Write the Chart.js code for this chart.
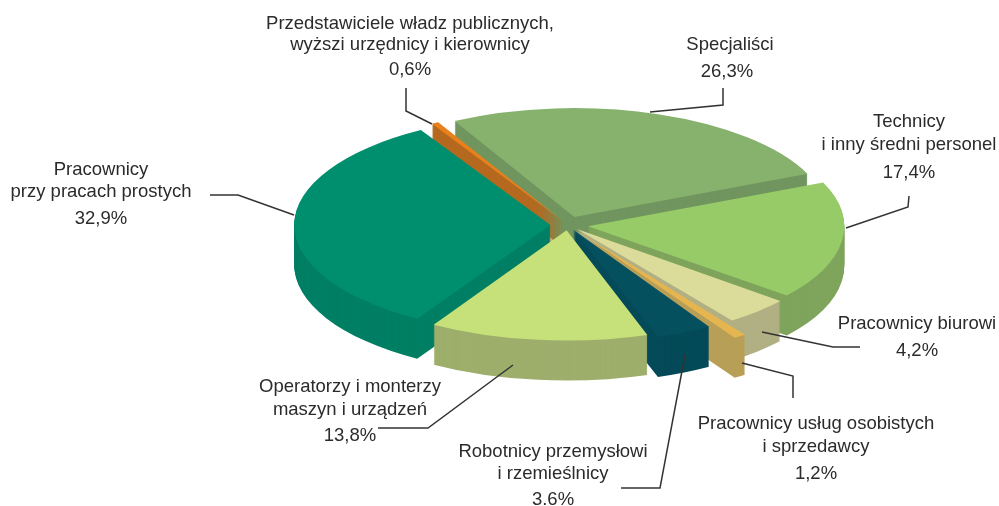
<!DOCTYPE html>
<html lang="pl">
<head>
<meta charset="utf-8">
<title>Pracownicy</title>
<script src="https://cdn.jsdelivr.net/npm/chart.js@4"></script>
<style>
  html, body { margin: 0; background: #fff; }
  canvas { display: block; }
</style>
</head>
<body>
<canvas id="pie-chart" width="999" height="506"></canvas>
<script>
const categories = [
  "Przedstawiciele władz publicznych, wyższi urzędnicy i kierownicy",
  "Specjaliści",
  "Technicy i inny średni personel",
  "Pracownicy biurowi",
  "Pracownicy usług osobistych i sprzedawcy",
  "Robotnicy przemysłowi i rzemieślnicy",
  "Operatorzy i monterzy maszyn i urządzeń",
  "Pracownicy przy pracach prostych",
];
const shares = [0.6, 26.3, 17.4, 4.2, 1.2, 3.6, 13.8, 32.9];
const shareLabels = ["0,6%", "26,3%", "17,4%", "4,2%", "1,2%", "3.6%", "13,8%", "32,9%"];

const topColors = ["#e8801c", "#87b26d", "#97cb68", "#dbdc9a", "#e5b550", "#04505f", "#c6e07a", "#008f6e"];
const sideColors = ["#b5691f", "#71955f", "#7fa45c", "#b1b084", "#b89f57", "#044a58", "#9eae6c", "#007f64"];
const sliceOffsets = [30, 63, 65, 42, 96, 40, 40, 57];

// back slices first, so the front ones paint over their walls
const drawOrder = [1, 0, 2, 7, 3, 4, 5, 6];

const pieCenter = { x: 568, y: 225 };
const pieRadius = { x: 254, y: 109 };
const pieDepth = 40;

// one entry per slice: the text lines with their centre and baseline, then the leader line
const callouts = [
  { text: [["Przedstawiciele władz publicznych,", 410, 29], ["wyższi urzędnicy i kierownicy", 410, 50], [shareLabels[0], 410, 75]],
    line: [[406, 88], [406, 111], [432, 124]] },
  { text: [["Specjaliści", 730, 50], [shareLabels[1], 727, 77]],
    line: [[723, 88], [723, 105], [650, 112]] },
  { text: [["Technicy", 909, 127], ["i inny średni personel", 909, 150], [shareLabels[2], 909, 178]],
    line: [[909, 196], [908, 207], [846, 228]] },
  { text: [["Pracownicy biurowi", 917, 329], [shareLabels[3], 917, 356]],
    line: [[860, 347], [833, 347], [762, 332]] },
  { text: [["Pracownicy usług osobistych", 816, 429], ["i sprzedawcy", 816, 452], [shareLabels[4], 816, 479]],
    line: [[793, 398], [793, 376], [742, 363]] },
  { text: [["Robotnicy przemysłowi", 553, 457], ["i rzemieślnicy", 553, 479], [shareLabels[5], 553, 505]],
    line: [[685, 355], [660, 488], [621, 488]] },
  { text: [["Operatorzy i monterzy", 350, 392], ["maszyn i urządzeń", 350, 415], [shareLabels[6], 350, 441]],
    line: [[513, 365], [428, 428], [378, 428]] },
  { text: [["Pracownicy", 101, 175], ["przy pracach prostych", 101, 197], [shareLabels[7], 101, 224]],
    line: [[294, 215], [238, 195], [210, 195]] },
];

function drawLayer(ctx, arc, color, drop) {
  const options = arc.options;
  arc.options = { ...options, backgroundColor: color, borderColor: color };
  ctx.save();
  ctx.translate(pieCenter.x, pieCenter.y + drop);
  ctx.scale(pieRadius.x / arc.outerRadius, pieRadius.y / arc.outerRadius);
  ctx.translate(-arc.x, -arc.y);
  arc.draw(ctx);
  ctx.restore();
  arc.options = options;
}

const tiltedPie = {
  id: "tiltedPie",
  beforeDatasetDraw(chart, args) {
    const ctx = chart.ctx;
    const arcs = args.meta.data;
    drawOrder.forEach((i) => {
      for (let drop = pieDepth; drop > 0; drop--) {
        drawLayer(ctx, arcs[i], sideColors[i], drop);
      }
      drawLayer(ctx, arcs[i], topColors[i], 0);
    });
    return false;
  },
  afterDraw(chart) {
    const ctx = chart.ctx;
    ctx.save();
    ctx.strokeStyle = "#333";
    ctx.lineWidth = 1.5;
    ctx.fillStyle = "#2b2b2b";
    ctx.font = '18.5px "Liberation Sans"';
    ctx.textAlign = "center";
    callouts.forEach((c) => {
      ctx.beginPath();
      c.line.forEach(([x, y], n) => (n ? ctx.lineTo(x, y) : ctx.moveTo(x, y)));
      ctx.stroke();
      c.text.forEach(([t, x, y]) => ctx.fillText(t, x, y));
    });
    ctx.restore();
  },
};

new Chart(document.getElementById("pie-chart").getContext("2d"), {
  type: "pie",
  data: {
    labels: categories,
    datasets: [
      {
        data: shares,
        backgroundColor: topColors,
        offset: sliceOffsets,
        borderWidth: 0,
      },
    ],
  },
  options: {
    responsive: false,
    animation: false,
    rotation: -30.3,
    layout: { padding: 0 },
    plugins: {
      legend: { display: false },
      tooltip: { enabled: false },
    },
  },
  plugins: [tiltedPie],
});
</script>
</body>
</html>
